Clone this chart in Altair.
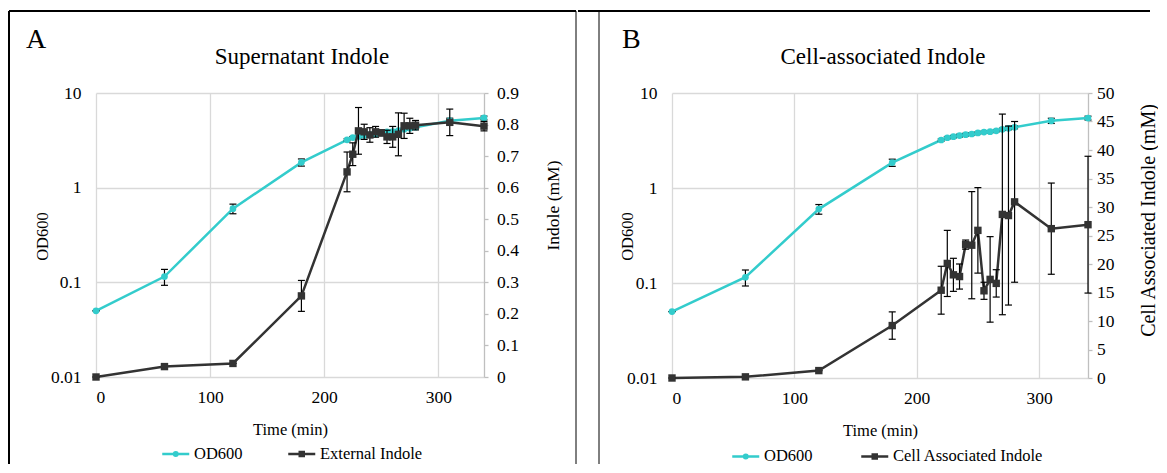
import altair as alt
import pandas as pd

# ---------------- data ----------------
TIME = [0, 60, 120, 180, 220, 225, 230, 235, 240, 245, 250, 255, 260, 265, 270, 275, 280, 310, 340]
OD600 = [0.05, 0.115, 0.60, 1.85, 3.20, 3.38, 3.47, 3.56, 3.64, 3.70, 3.80, 3.88, 3.92, 4.00, 4.15, 4.25, 4.35, 5.10, 5.45]
OD600_ERR = [0.0, 0.022, 0.07, 0.16, 0.08, 0.09, 0.10, 0.12, 0.12, 0.12, 0.10, 0.10, 0.10, 0.10, 0.12, 0.15, 0.15, 0.32, 0.25]
EXT_INDOLE = [0.000, 0.033, 0.043, 0.257, 0.650, 0.706, 0.780, 0.777, 0.767, 0.777, 0.774, 0.761, 0.761, 0.769, 0.796, 0.796, 0.798, 0.807, 0.795]
EXT_INDOLE_ERR = [0.0, 0.0, 0.0, 0.049, 0.063, 0.036, 0.074, 0.024, 0.023, 0.017, 0.010, 0.021, 0.033, 0.068, 0.040, 0.024, 0.015, 0.042, 0.015]
CELL_INDOLE = [0.0, 0.2, 1.3, 9.2, 15.4, 20.1, 18.1, 17.8, 23.4, 23.3, 25.9, 15.3, 17.3, 16.6, 28.7, 28.5, 30.9, 26.2, 26.9]
CELL_INDOLE_ERR = [0.0, 0.0, 0.0, 2.4, 4.2, 5.8, 2.9, 2.2, 0.8, 9.4, 7.5, 1.5, 7.5, 2.4, 17.6, 15.7, 14.1, 8.0, 12.0]

X_TICKS = [0, 100, 200, 300]
OD_TICKS = [0.01, 0.1, 1, 10]
EXT_TICKS = [0, 0.1, 0.2, 0.3, 0.4, 0.5, 0.6, 0.7, 0.8, 0.9]
CELL_TICKS = [0, 5, 10, 15, 20, 25, 30, 35, 40, 45, 50]

PANEL_LETTERS = ["A", "B"]
PANEL_TITLES = ["Supernatant Indole", "Cell-associated Indole"]
SERIES_A = ["OD600", "External Indole"]
SERIES_B = ["OD600", "Cell Associated Indole"]
RIGHT_TITLES = ["Indole (mM)", "Cell Associated Indole (mM)"]

# ---------------- style ----------------
CYAN = "#33CCCC"
DARK = "#333333"
GRID = "#D9D9D9"
AXISLINE = "#BFBFBF"
FONT = "Liberation Serif"
PATH_CIRC = "M-2.7,0H2.7M0.35,0A0.35,0.35,0,1,1,-0.35,0A0.35,0.35,0,1,1,0.35,0Z"
PATH_SQ = "M-2.7,0H2.7M-0.4,-0.4H0.4V0.4H-0.4Z"


def one_row(**kw):
    return pd.DataFrame({k: [v] for k, v in kw.items()})


def panel(idx, series, indole, indole_err, right_max, right_ticks, w, h, g):
    od_df = pd.DataFrame({
        "t": TIME, "v": OD600,
        "lo": [v - e for v, e in zip(OD600, OD600_ERR)],
        "hi": [v + e for v, e in zip(OD600, OD600_ERR)],
    })
    ind_df = pd.DataFrame({
        "t": TIME, "v": indole,
        "lo": [v - e for v, e in zip(indole, indole_err)],
        "hi": [v + e for v, e in zip(indole, indole_err)],
    })
    xscale = alt.Scale(domain=[0, 340], nice=False, zero=False)
    x_axis_def = alt.Axis(
        values=X_TICKS, title="Time (min)", grid=True, gridColor=GRID, gridWidth=1.3,
        domain=False, ticks=False, labelFont=FONT, labelFontSize=17.5, labelColor="black",
        labelPadding=11, titleFont=FONT, titleFontSize=16.5, titleFontWeight="normal",
        titleColor="black", titlePadding=16)
    X = alt.X("t:Q", scale=xscale, axis=x_axis_def)

    od_scale = alt.Scale(type="log", domain=[0.01, 10], nice=False)
    od_axis = alt.Axis(
        orient="left", values=OD_TICKS, format="~g", title="OD600",
        titleX=g["odtx"], titleY=143, titleAngle=270, titleBaseline="middle", titleAlign="center",
        titleFont=FONT, titleFontSize=16.5, titleFontWeight="normal", titleColor="black",
        grid=True, gridColor=GRID, gridWidth=1.3, domain=False, ticks=False,
        labelFont=FONT, labelFontSize=17.5, labelColor="black", labelPadding=15)
    r_scale = alt.Scale(domain=[0, right_max], nice=False, zero=True)
    r_axis = alt.Axis(
        orient="right", values=right_ticks, format="~g", title=RIGHT_TITLES[idx],
        titleX=g["rtx"], titleY=g["rty"], titleAngle=270, titleBaseline="middle", titleAlign="center",
        titleFont=FONT, titleFontSize=g["rfs"], titleFontWeight="normal", titleColor="black",
        grid=False, domain=True, domainColor=AXISLINE, domainWidth=1.3,
        ticks=True, tickColor=AXISLINE, tickSize=4, tickWidth=1.3,
        labelFont=FONT, labelFontSize=17.5, labelColor="black", labelPadding=g["rlp"])

    def series_layers(df, scale, axis, color, point_mark):
        line = alt.Chart(df).mark_line(color=color, strokeWidth=2.5).encode(
            x=X, y=alt.Y("v:Q", scale=scale, axis=axis))
        err = alt.Chart(df).mark_rule(color="black", strokeWidth=1.2).encode(
            x=X, y=alt.Y("lo:Q", scale=scale, axis=None), y2="hi:Q")
        cap = alt.Chart(df).transform_fold(["lo", "hi"], as_=["k", "cap"]).mark_tick(
            orient="horizontal", size=7, thickness=1.2, color="black", opacity=1).encode(
            x=X, y=alt.Y("cap:Q", scale=scale, axis=None))
        pts = point_mark(alt.Chart(df)).encode(
            x=X, y=alt.Y("v:Q", scale=scale, axis=None))
        return [line, err, cap, pts]

    od_layers = series_layers(od_df, od_scale, od_axis, CYAN,
                              lambda c: c.mark_circle(size=45, color=CYAN, opacity=1))
    ind_layers = series_layers(ind_df, r_scale, r_axis, DARK,
                               lambda c: c.mark_square(size=55, color=DARK, opacity=1))

    # legend
    leg_df = pd.DataFrame({"series": series})
    legend = alt.Legend(
        orient="none", legendX=g["lx"], legendY=g["ly"], direction="horizontal", title=None,
        symbolSize=100, symbolStrokeWidth=2.5, symbolOpacity=1, labelFont=FONT,
        labelFontSize=16.5, labelColor="black", labelOffset=10, columnPadding=g["lcp"], padding=0)
    leg = alt.Chart(leg_df).mark_point(opacity=0).encode(
        x=alt.value(0), y=alt.value(0),
        color=alt.Color("series:N", scale=alt.Scale(domain=series, range=[CYAN, DARK]), legend=legend),
        shape=alt.Shape("series:N", scale=alt.Scale(domain=series, range=[PATH_CIRC, PATH_SQ]), legend=legend))

    # titles
    title = alt.Chart(one_row(txt=PANEL_TITLES[idx])).mark_text(
        font=FONT, fontSize=23, align="center", baseline="alphabetic", color="black").encode(
        x=alt.value(g["tx"]), y=alt.value(-29), text="txt:N")
    letter = alt.Chart(one_row(txt=PANEL_LETTERS[idx])).mark_text(
        font=FONT, fontSize=28, align="left", baseline="alphabetic", color="black").encode(
        x=alt.value(g["ax"]), y=alt.value(-45), text="txt:N")

    # frame
    frame = []
    for (x1, x2, y1, y2, sw) in g["frame"]:
        frame.append(alt.Chart(one_row(k=0)).mark_rule(color="black", strokeWidth=sw).encode(
            x=alt.value(x1), x2=alt.value(x2), y=alt.value(y1), y2=alt.value(y2)))

    return alt.layer(*od_layers, *ind_layers, leg, title, letter, *frame).resolve_scale(
        y="independent").resolve_axis(y="independent").properties(width=w, height=h)


geoA = dict(odtx=-54, rtx=69, rty=112, rlp=8.5, rfs=17.5, lx=71.5, ly=352.5, lcp=39, tx=206, ax=-70,
            frame=[(-87, 480, -82, -82, 2), (-87, -87, -82, 371, 2), (480, 480, -82, 371, 1)])
geoB = dict(odtx=-45, rtx=60, rty=127, rlp=4.5, rfs=20, lx=65.5, ly=355, lcp=42, tx=211, ax=-50,
            frame=[(-94, 478, -82, -82, 2), (-73, -73, -82, 371, 1)])

pA = panel(0, SERIES_A, EXT_INDOLE, EXT_INDOLE_ERR, 0.9, EXT_TICKS, 388, 284, geoA)
pB = panel(1, SERIES_B, CELL_INDOLE, CELL_INDOLE_ERR, 50, CELL_TICKS, 416, 285, geoB)

chart = alt.hconcat(pA, pB, spacing=0).resolve_scale(
    color="independent", shape="independent").resolve_legend(
    color="independent", shape="independent").properties(
    padding={"left": 0, "top": 2, "right": 0, "bottom": 0},
    background="white").configure_view(stroke=None)

chart.save("out.html", embed_options={"renderer": "svg", "actions": False})
